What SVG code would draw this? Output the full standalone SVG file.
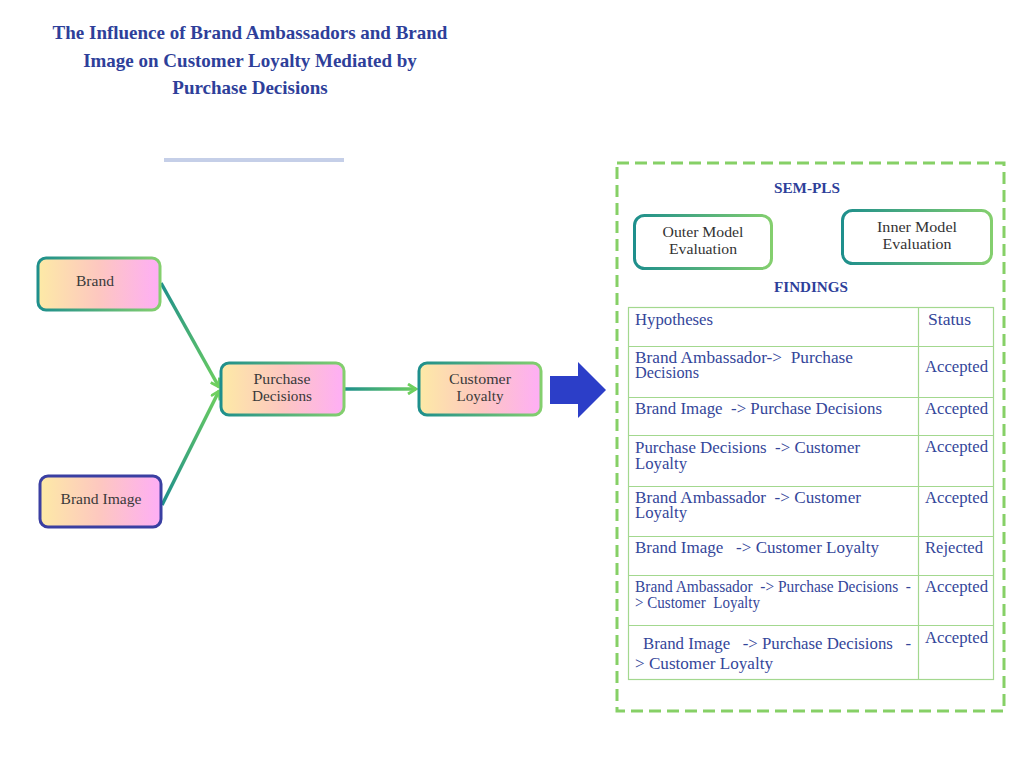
<svg xmlns="http://www.w3.org/2000/svg" width="1024" height="768" viewBox="0 0 1024 768">
<style>
.title{font-family:"Liberation Serif","Times New Roman",serif;font-weight:bold;font-size:19px;fill:#2e3f9a;text-anchor:middle}
.node{font-family:"Liberation Serif","Times New Roman",serif;font-size:15.5px;fill:#3a3a3a;text-anchor:middle}
.head{font-family:"Liberation Serif","Times New Roman",serif;font-weight:bold;font-size:15px;fill:#2e3f9a;text-anchor:middle}
.eval{font-family:"Liberation Serif","Times New Roman",serif;font-size:15.5px;fill:#333;text-anchor:middle}
.cell{font-family:"Liberation Serif","Times New Roman",serif;font-size:16px;fill:#34469a;white-space:pre}
.grid{stroke:#a3d88f;stroke-width:1.2;fill:none}
</style>
<defs>
<linearGradient id="fillG" x1="0" y1="0" x2="1" y2="0">
<stop offset="0" stop-color="#fdeaa6"/>
<stop offset="0.5" stop-color="#fdc7c0"/>
<stop offset="1" stop-color="#feaef6"/>
</linearGradient>
<linearGradient id="strokeG" x1="0" y1="0" x2="1" y2="0">
<stop offset="0" stop-color="#1e8f8c"/>
<stop offset="1" stop-color="#84cf6e"/>
</linearGradient>
<linearGradient id="edgeG1" gradientUnits="userSpaceOnUse" x1="161" y1="283" x2="220" y2="389">
<stop offset="0" stop-color="#1e8f8c"/>
<stop offset="1" stop-color="#6fd05e"/>
</linearGradient>
<linearGradient id="edgeG2" gradientUnits="userSpaceOnUse" x1="162" y1="505" x2="220" y2="389">
<stop offset="0" stop-color="#1e8f8c"/>
<stop offset="1" stop-color="#6fd05e"/>
</linearGradient>
<linearGradient id="edgeG3" gradientUnits="userSpaceOnUse" x1="345" y1="389" x2="418" y2="389">
<stop offset="0" stop-color="#1e8f8c"/>
<stop offset="1" stop-color="#6fd05e"/>
</linearGradient>
<marker id="arr" markerWidth="12" markerHeight="12" refX="9" refY="6" orient="auto" markerUnits="userSpaceOnUse">
<path d="M1,1 L9,6 L1,11" fill="none" stroke="#6fd05e" stroke-width="2.8"/>
</marker>
</defs>
<rect width="1024" height="768" fill="#ffffff"/>

<g id="title">
<text class="title" x="250" y="39">The Influence of Brand Ambassadors and Brand</text>
<text class="title" x="250" y="67">Image on Customer Loyalty Mediated by</text>
<text class="title" x="250" y="94">Purchase Decisions</text>
<rect x="164" y="158" width="180" height="4" fill="#c5cfe8"/>
</g>

<g id="connectors">
<line x1="161" y1="283" x2="219" y2="387" stroke="url(#edgeG1)" stroke-width="3.5" marker-end="url(#arr)"/>
<line x1="162" y1="505" x2="219" y2="391" stroke="url(#edgeG2)" stroke-width="3.5" marker-end="url(#arr)"/>
<line x1="345" y1="389" x2="416" y2="389" stroke="url(#edgeG3)" stroke-width="3.5" marker-end="url(#arr)"/>
</g>

<g id="node-brand">
<rect x="38" y="258" width="122" height="52" rx="8" fill="url(#fillG)" stroke="url(#strokeG)" stroke-width="3"/>
<text class="node" x="95" y="286" textLength="38" lengthAdjust="spacingAndGlyphs">Brand</text>
</g>
<g id="node-brand-image">
<rect x="40" y="476" width="121" height="51" rx="8" fill="url(#fillG)" stroke="#3a3fa2" stroke-width="3"/>
<text class="node" x="101" y="504" textLength="81" lengthAdjust="spacingAndGlyphs">Brand Image</text>
</g>
<g id="node-purchase">
<rect x="221" y="363" width="123" height="52" rx="8" fill="url(#fillG)" stroke="url(#strokeG)" stroke-width="3"/>
<text class="node" x="282" y="384" textLength="57" lengthAdjust="spacingAndGlyphs">Purchase</text>
<text class="node" x="282" y="401" textLength="60" lengthAdjust="spacingAndGlyphs">Decisions</text>
</g>
<g id="node-customer">
<rect x="419" y="363" width="122" height="52" rx="8" fill="url(#fillG)" stroke="url(#strokeG)" stroke-width="3"/>
<text class="node" x="480" y="384" textLength="62" lengthAdjust="spacingAndGlyphs">Customer</text>
<text class="node" x="480" y="401" textLength="47" lengthAdjust="spacingAndGlyphs">Loyalty</text>
</g>

<g id="big-arrow">
<path d="M550,376 L578,376 L578,362 L606,390 L578,418 L578,404 L550,404 Z" fill="#2c3ec8"/>
</g>

<g id="panel">
<rect x="617" y="163" width="387" height="548" fill="none" stroke="#86d066" stroke-width="3" stroke-dasharray="12,6"/>
<text class="head" x="807" y="193" textLength="66" lengthAdjust="spacingAndGlyphs">SEM-PLS</text>
<g id="node-outer">
<rect x="634.5" y="215.5" width="137" height="53" rx="10" fill="#ffffff" stroke="url(#strokeG)" stroke-width="3"/>
<text class="eval" x="703" y="237" textLength="81" lengthAdjust="spacingAndGlyphs">Outer Model</text>
<text class="eval" x="703" y="254" textLength="68" lengthAdjust="spacingAndGlyphs">Evaluation</text>
</g>
<g id="node-inner">
<rect x="842.5" y="210.5" width="149" height="53" rx="10" fill="#ffffff" stroke="url(#strokeG)" stroke-width="3"/>
<text class="eval" x="917" y="232" textLength="80" lengthAdjust="spacingAndGlyphs">Inner Model</text>
<text class="eval" x="917" y="249" textLength="69" lengthAdjust="spacingAndGlyphs">Evaluation</text>
</g>
<text class="head" x="811" y="292" textLength="74" lengthAdjust="spacingAndGlyphs">FINDINGS</text>

<g id="table">
<rect class="grid" x="628.5" y="307.5" width="365" height="372"/>
<line class="grid" x1="918.5" y1="307" x2="918.5" y2="680"/>
<line class="grid" x1="628" y1="346.5" x2="994" y2="346.5"/>
<line class="grid" x1="628" y1="397.5" x2="994" y2="397.5"/>
<line class="grid" x1="628" y1="435.5" x2="994" y2="435.5"/>
<line class="grid" x1="628" y1="486.5" x2="994" y2="486.5"/>
<line class="grid" x1="628" y1="536.5" x2="994" y2="536.5"/>
<line class="grid" x1="628" y1="575.5" x2="994" y2="575.5"/>
<line class="grid" x1="628" y1="625.5" x2="994" y2="625.5"/>

<text class="cell" x="635" y="325" textLength="78" lengthAdjust="spacingAndGlyphs">Hypotheses</text>
<text class="cell" x="928" y="325" textLength="43" lengthAdjust="spacingAndGlyphs">Status</text>

<text class="cell" x="635" y="363" textLength="218" lengthAdjust="spacingAndGlyphs">Brand Ambassador->  Purchase</text>
<text class="cell" x="635" y="378" textLength="64" lengthAdjust="spacingAndGlyphs">Decisions</text>
<text class="cell" x="925" y="372" textLength="63" lengthAdjust="spacingAndGlyphs">Accepted</text>

<text class="cell" x="635" y="414" textLength="247" lengthAdjust="spacingAndGlyphs">Brand Image  -> Purchase Decisions</text>
<text class="cell" x="925" y="414" textLength="63" lengthAdjust="spacingAndGlyphs">Accepted</text>

<text class="cell" x="635" y="453" textLength="225" lengthAdjust="spacingAndGlyphs">Purchase Decisions  -> Customer</text>
<text class="cell" x="635" y="469" textLength="52" lengthAdjust="spacingAndGlyphs">Loyalty</text>
<text class="cell" x="925" y="452" textLength="63" lengthAdjust="spacingAndGlyphs">Accepted</text>

<text class="cell" x="635" y="503" textLength="226" lengthAdjust="spacingAndGlyphs">Brand Ambassador  -> Customer</text>
<text class="cell" x="635" y="518" textLength="52" lengthAdjust="spacingAndGlyphs">Loyalty</text>
<text class="cell" x="925" y="503" textLength="63" lengthAdjust="spacingAndGlyphs">Accepted</text>

<text class="cell" x="635" y="553" textLength="244" lengthAdjust="spacingAndGlyphs">Brand Image   -> Customer Loyalty</text>
<text class="cell" x="925" y="553" textLength="58" lengthAdjust="spacingAndGlyphs">Rejected</text>

<text class="cell" x="635" y="592" textLength="276" lengthAdjust="spacingAndGlyphs">Brand Ambassador  -> Purchase Decisions  -</text>
<text class="cell" x="635" y="608" textLength="125" lengthAdjust="spacingAndGlyphs">> Customer  Loyalty</text>
<text class="cell" x="925" y="592" textLength="63" lengthAdjust="spacingAndGlyphs">Accepted</text>

<text class="cell" x="643" y="649" textLength="268" lengthAdjust="spacingAndGlyphs">Brand Image   -> Purchase Decisions   -</text>
<text class="cell" x="635" y="669" textLength="138" lengthAdjust="spacingAndGlyphs">> Customer Loyalty</text>
<text class="cell" x="925" y="643" textLength="63" lengthAdjust="spacingAndGlyphs">Accepted</text>
</g>
</g>
</svg>
